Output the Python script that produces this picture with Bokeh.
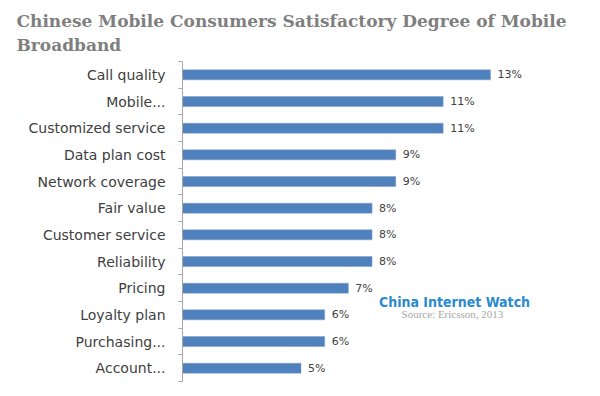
from bokeh.plotting import figure
from bokeh.models import ColumnDataSource, FixedTicker, Label, Range1d
from bokeh.core.properties import value
from bokeh.embed import file_html
from bokeh.resources import INLINE

categories = ["Call quality", "Mobile...", "Customized service", "Data plan cost",
              "Network coverage", "Fair value", "Customer service", "Reliability",
              "Pricing", "Loyalty plan", "Purchasing...", "Account..."]
values = [13, 11, 11, 9, 9, 8, 8, 8, 7, 6, 6, 5]
value_labels = [f"{v}%" for v in values]

n = len(categories)
ypos = [n - 0.5 - i for i in range(n)]

src = ColumnDataSource(dict(y=ypos, v=values, lab=value_labels, cat=categories))

p = figure(width=600, height=396, output_backend="svg", toolbar_location=None,
           x_range=Range1d(0, 17.64), y_range=Range1d(0, n),
           title="Chinese Mobile Consumers Satisfactory  Degree of Mobile\nBroadband",
           min_border_left=182, min_border_top=61, min_border_bottom=15, min_border_right=0)
p.outline_line_color = None
p.xgrid.visible = False
p.ygrid.visible = False
p.xaxis.visible = False
p.background_fill_color = "white"
p.border_fill_color = "white"

p.title.align = "left"
p.title.vertical_align = "top"
p.title.offset = -166
p.title.standoff = 10
p.title.text_font = "DejaVu Serif"
p.title.text_font_style = "bold"
p.title.text_font_size = "17px"
p.title.text_color = "#7f7f7f"
p.title.text_line_height = 1.2

p.hbar(y="y", left=0, right="v", height=0.375, source=src,
       fill_color="#4f81bd", line_color="#7a9fd0", line_width=0.5)

p.text(x="v", y="y", text="lab", source=src, x_offset=7,
       text_baseline="middle", text_align="left", text_font_size="11px",
       text_color="#404040", text_font=value("DejaVu Sans"))

yax = p.yaxis[0]
yax.ticker = FixedTicker(ticks=ypos, minor_ticks=list(range(n + 1)))
yax.major_label_overrides = {y: c for y, c in zip(ypos, categories)}
yax.major_tick_out = 0
yax.major_tick_in = 0
yax.minor_tick_out = 4
yax.minor_tick_in = 0
yax.minor_tick_line_color = "#a6a6a6"
yax.axis_line_color = "#a6a6a6"
yax.major_label_standoff = 13
yax.major_label_text_font = "DejaVu Sans"
yax.major_label_text_font_size = "14px"
yax.major_label_text_color = "#404040"

wm1 = Label(x=11.48, y=3.0, text="China Internet Watch", text_align="center",
            text_font="DejaVu Sans Condensed", text_font_style="bold", text_font_size="14px",
            text_color="#2a8ad0", text_baseline="alphabetic")
wm2 = Label(x=11.39, y=2.55, text="Source: Ericsson, 2013", text_align="center",
            text_font="Liberation Serif", text_font_size="11px",
            text_color="#a6a6a6", text_baseline="alphabetic")
for lab in (wm1, wm2):
    p.add_layout(lab)

open("out.html", "w").write(file_html(p, INLINE))
